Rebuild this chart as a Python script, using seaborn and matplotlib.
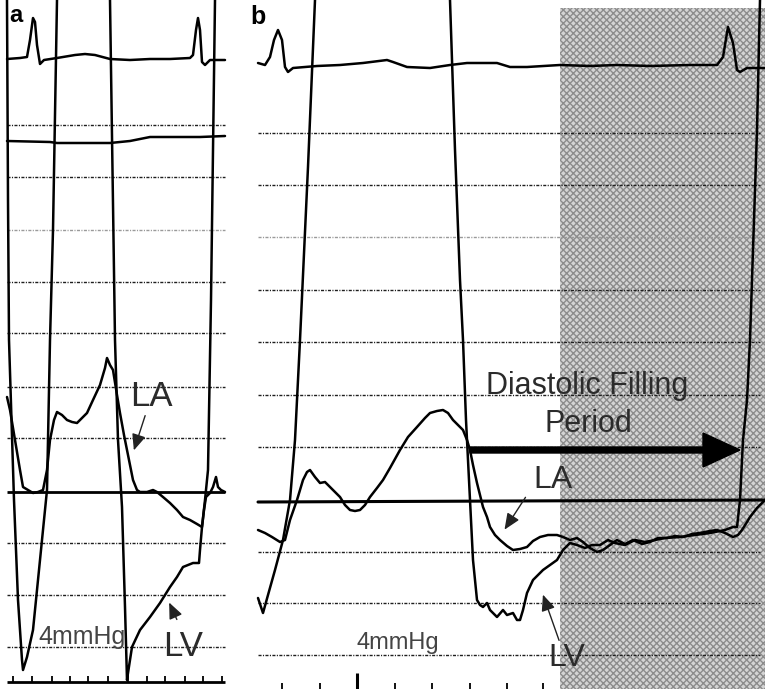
import numpy as np
import pandas as pd
import matplotlib
matplotlib.use("Agg")
import matplotlib.pyplot as plt
import seaborn as sns
from matplotlib.patches import Rectangle

# ---------------- data (in image units) ----------------
# Panel a
ecg_a_t = [7, 20, 27, 30, 33, 35, 37, 40, 44, 57, 75, 85, 95, 110, 130, 150, 170, 190, 193, 196, 198, 200, 202, 205, 210, 225]
ecg_a_p = [59, 58, 57, 40, 18, 22, 45, 64, 60, 58, 55, 54, 55, 59, 60, 59, 59, 58, 55, 30, 18, 30, 62, 65, 60, 60]

ao_a_t = [7, 50, 57, 110, 130, 150, 200, 225]
ao_a_p = [141, 142, 143, 143, 141, 137, 137, 136]

lv_a_t = [7, 8, 9, 14, 18, 22, 23, 27, 33, 40, 47, 50, 53, 57,
          np.nan,
          110, 115, 118, 122, 125, 127, 128, 132, 140, 150, 160, 170, 177, 183, 193, 199,
          200, 202, 205, 208, 211, 213, 215]
lv_a_p = [0, 200, 340, 500, 600, 660, 670, 657, 630, 560, 490, 340, 230, 0,
          np.nan,
          0, 340, 440, 507, 607, 680, 673, 647, 630, 617, 603, 587, 577, 567, 563, 563,
          550, 527, 500, 470, 300, 150, 0]

la_a_t = [7, 10, 15, 20, 23, 28, 33, 38, 43, 47, 50, 54, 57, 62, 67, 72, 77, 82, 87, 93, 100, 105,
          107, 110, 113, 117, 120, 124, 127, 130, 133, 137, 140, 147, 153, 157, 163, 170, 177, 183,
          190, 197, 202, 204, 206, 210, 213, 216, 218, 221, 225]
la_a_p = [397, 410, 440, 470, 487, 490, 493, 492, 490, 470, 440, 420, 412, 415, 420, 422, 423, 418,
          413, 400, 385, 368, 358, 365, 370, 395, 413, 435, 450, 465, 480, 490, 492, 492, 490, 492,
          497, 503, 510, 517, 520, 524, 527, 510, 497, 493, 487, 477, 487, 490, 492]

grid_a = [125, 177, 230, 282, 333, 387, 438, 543, 595, 647]
ticks_a = [13, 32, 52, 70, 88, 108, 128, 147, 165, 185, 203, 222]

# Panel b
ecg_b_t = [258, 265, 270, 274, 278, 282, 285, 288, 293, 317, 340, 363, 387, 393, 407, 430, 450, 467,
           497, 510, 527, 560, 590, 617, 650, 690, 717, 723, 728, 733, 737, 740, 747, 765]
ecg_b_p = [63, 65, 57, 40, 30, 40, 67, 72, 68, 66, 65, 63, 60, 62, 67, 68, 65, 63,
           63, 67, 67, 65, 66, 65, 66, 65, 65, 57, 27, 43, 70, 72, 68, 68]

lv_b_t = [258, 263, 268, 275, 283, 290, 295, 300, 308, 315,
          np.nan,
          450, 455, 460, 463, 466, 470, 473, 477, 480, 483, 487, 490, 497, 503, 507, 513, 517, 520,
          523, 527, 533, 538, 543, 550, 557, 563, 570, 577, 585, 592, 600, 608, 615, 625, 635, 645,
          655, 665, 680, 695, 710, 725, 733, 737, 740, 743, 747, 750, 753, 757, 760]
lv_b_p = [598, 613, 595, 570, 540, 500, 440, 340, 167, 0,
          np.nan,
          0, 150, 280, 340, 420, 500, 560, 600, 605, 607, 603, 610, 617, 610, 615, 613, 620, 620,
          610, 593, 580, 575, 570, 565, 560, 550, 543, 545, 548, 545, 545, 540, 543, 545, 540, 542,
          540, 538, 537, 535, 533, 530, 527, 527, 500, 440, 400, 340, 250, 130, 0]

la_b_t = [258, 265, 272, 280, 285, 290, 297, 303, 307, 310, 315, 320, 325, 330, 335, 340, 345, 350,
          355, 360, 365, 370, 377, 383, 390, 400, 408, 417, 425, 430, 437, 443, 448, 453, 458, 463,
          467, 470, 473, 477, 480, 483, 487, 490, 495, 500, 507, 513, 520, 527, 533, 540, 548, 557,
          563, 570, 577, 583, 590, 597, 603, 610, 617, 625, 633, 642, 650, 658, 667, 675, 683, 692,
          700, 710, 717, 725, 733, 738, 742, 747, 750, 757, 765]
la_b_p = [530, 533, 537, 542, 540, 520, 500, 480, 472, 470, 477, 483, 482, 487, 492, 497, 505, 510,
          511, 510, 505, 497, 488, 480, 468, 450, 437, 427, 418, 413, 411, 410, 413, 420, 425, 430,
          440, 450, 465, 483, 495, 507, 517, 527, 535, 540, 546, 550, 549, 547, 541, 537, 535, 535,
          537, 540, 538, 542, 548, 552, 550, 545, 540, 544, 540, 544, 542, 538, 538, 536, 537, 534,
          533, 531, 530, 533, 537, 535, 530, 522, 517, 508, 500]

grid_b = [133, 185, 237, 290, 342, 395, 447, 552, 603, 655]
ticks_b = [282, 320, 357, 395, 432, 470, 507, 543]

# ---------------- figure ----------------
sns.set_theme(style="white")
plt.rcParams['font.family'] = ['Liberation Sans', 'DejaVu Sans']

fig = plt.figure(figsize=(7.65, 6.89), dpi=100)
ax = fig.add_axes([0, 0, 1, 1])

# shaded diastolic region
ax.add_patch(Rectangle((560, 8), 205, 681, facecolor='#d4d4d4', edgecolor='#8c8c8c',
                       hatch='xxxxx', linewidth=0, zorder=0))

# dotted grid lines
grid_style = (0, (2.2, 1.0, 0.8, 1.0))
for yy in grid_a:
    ax.hlines(yy, 7, 225, colors='#9a9a9a' if yy == 230 else '#1e1e1e',
              linestyles=grid_style, linewidth=1.0, zorder=1)
for yy in grid_b:
    ax.hlines(yy, 258, 760, colors='#9a9a9a' if yy == 237 else '#1e1e1e',
              linestyles=grid_style, linewidth=1.0, zorder=1)

# baselines
ax.hlines(492, 7, 225, colors='black', linewidth=2.0, zorder=2)
ax.plot([258, 765], [502, 500], color='black', linewidth=2.2, zorder=2)

# traces
frames = []
for name, t, p in [("ecg_a", ecg_a_t, ecg_a_p), ("ao_a", ao_a_t, ao_a_p),
                   ("lv_a", lv_a_t, lv_a_p), ("la_a", la_a_t, la_a_p),
                   ("ecg_b", ecg_b_t, ecg_b_p), ("lv_b", lv_b_t, lv_b_p),
                   ("la_b", la_b_t, la_b_p)]:
    frames.append(pd.DataFrame({"t": t, "p": p, "trace": name}))
df = pd.concat(frames, ignore_index=True)

for name, sub in df.groupby("trace", sort=False):
    seg_id = sub["t"].isna().cumsum()
    valid = sub["t"].notna()
    for _, seg in sub[valid].groupby(seg_id[valid]):
        sns.lineplot(data=seg, x="t", y="p", sort=False, estimator=None,
                     color='black', linewidth=1.8, ax=ax, zorder=3)

ax.set_xlim(0, 765)
ax.set_ylim(689, 0)
ax.axis('off')

# bottom scale ticks
ax.hlines(682, 7, 225, colors='black', linewidth=2.0, zorder=3)
for xx in ticks_a:
    ax.vlines(xx, 676, 682, colors='black', linewidth=1.3, zorder=3)
for xx in ticks_b:
    ax.vlines(xx, 673 if xx == 357 else 683, 689, colors='black',
              linewidth=2.2 if xx == 357 else 1.3, zorder=3)

# diastolic filling arrow
ax.arrow(470, 450, 270, 0, width=6, head_width=34, head_length=37,
         length_includes_head=True, color='black', zorder=4)

# text
txt = '#2b2b2b'
ax.text(587, 386, "Diastolic Filling", fontsize=22, color=txt, ha='center', va='center', zorder=5)
ax.text(588, 424, "Period", fontsize=22, color=txt, ha='center', va='center', zorder=5)

ax.text(151, 396, "LA", fontsize=25, color=txt, ha='center', va='center', zorder=5)
ax.text(183, 647, "LV", fontsize=25, color=txt, ha='center', va='center', zorder=5)
ax.text(553, 480, "LA", fontsize=23, color=txt, ha='center', va='center', zorder=5)
ax.text(567, 658, "LV", fontsize=23, color=txt, ha='center', va='center', zorder=5)

ax.text(82, 637, "4mmHg", fontsize=18, color='#444444', ha='center', va='center', zorder=5)
ax.text(398, 643, "4mmHg", fontsize=17, color='#444444', ha='center', va='center', zorder=5)

ax.text(9, 15, "a", fontsize=17, fontweight='bold', color='black', ha='left', va='center', zorder=5)
ax.text(250, 17, "b", fontsize=18, fontweight='bold', color='black', ha='left', va='center', zorder=5)

arrow_kw = dict(arrowstyle='-|>,head_length=0.7,head_width=0.3', color='#222222', lw=1.0,
                mutation_scale=14)
ax.annotate('', xy=(133, 453), xytext=(146, 413), arrowprops=arrow_kw, zorder=5)
ax.annotate('', xy=(168, 600), xytext=(178, 622), arrowprops=arrow_kw, zorder=5)
ax.annotate('', xy=(503, 532), xytext=(527, 495), arrowprops=arrow_kw, zorder=5)
ax.annotate('', xy=(542, 592), xytext=(560, 643), arrowprops=arrow_kw, zorder=5)

fig.savefig("out.png", dpi=100)
